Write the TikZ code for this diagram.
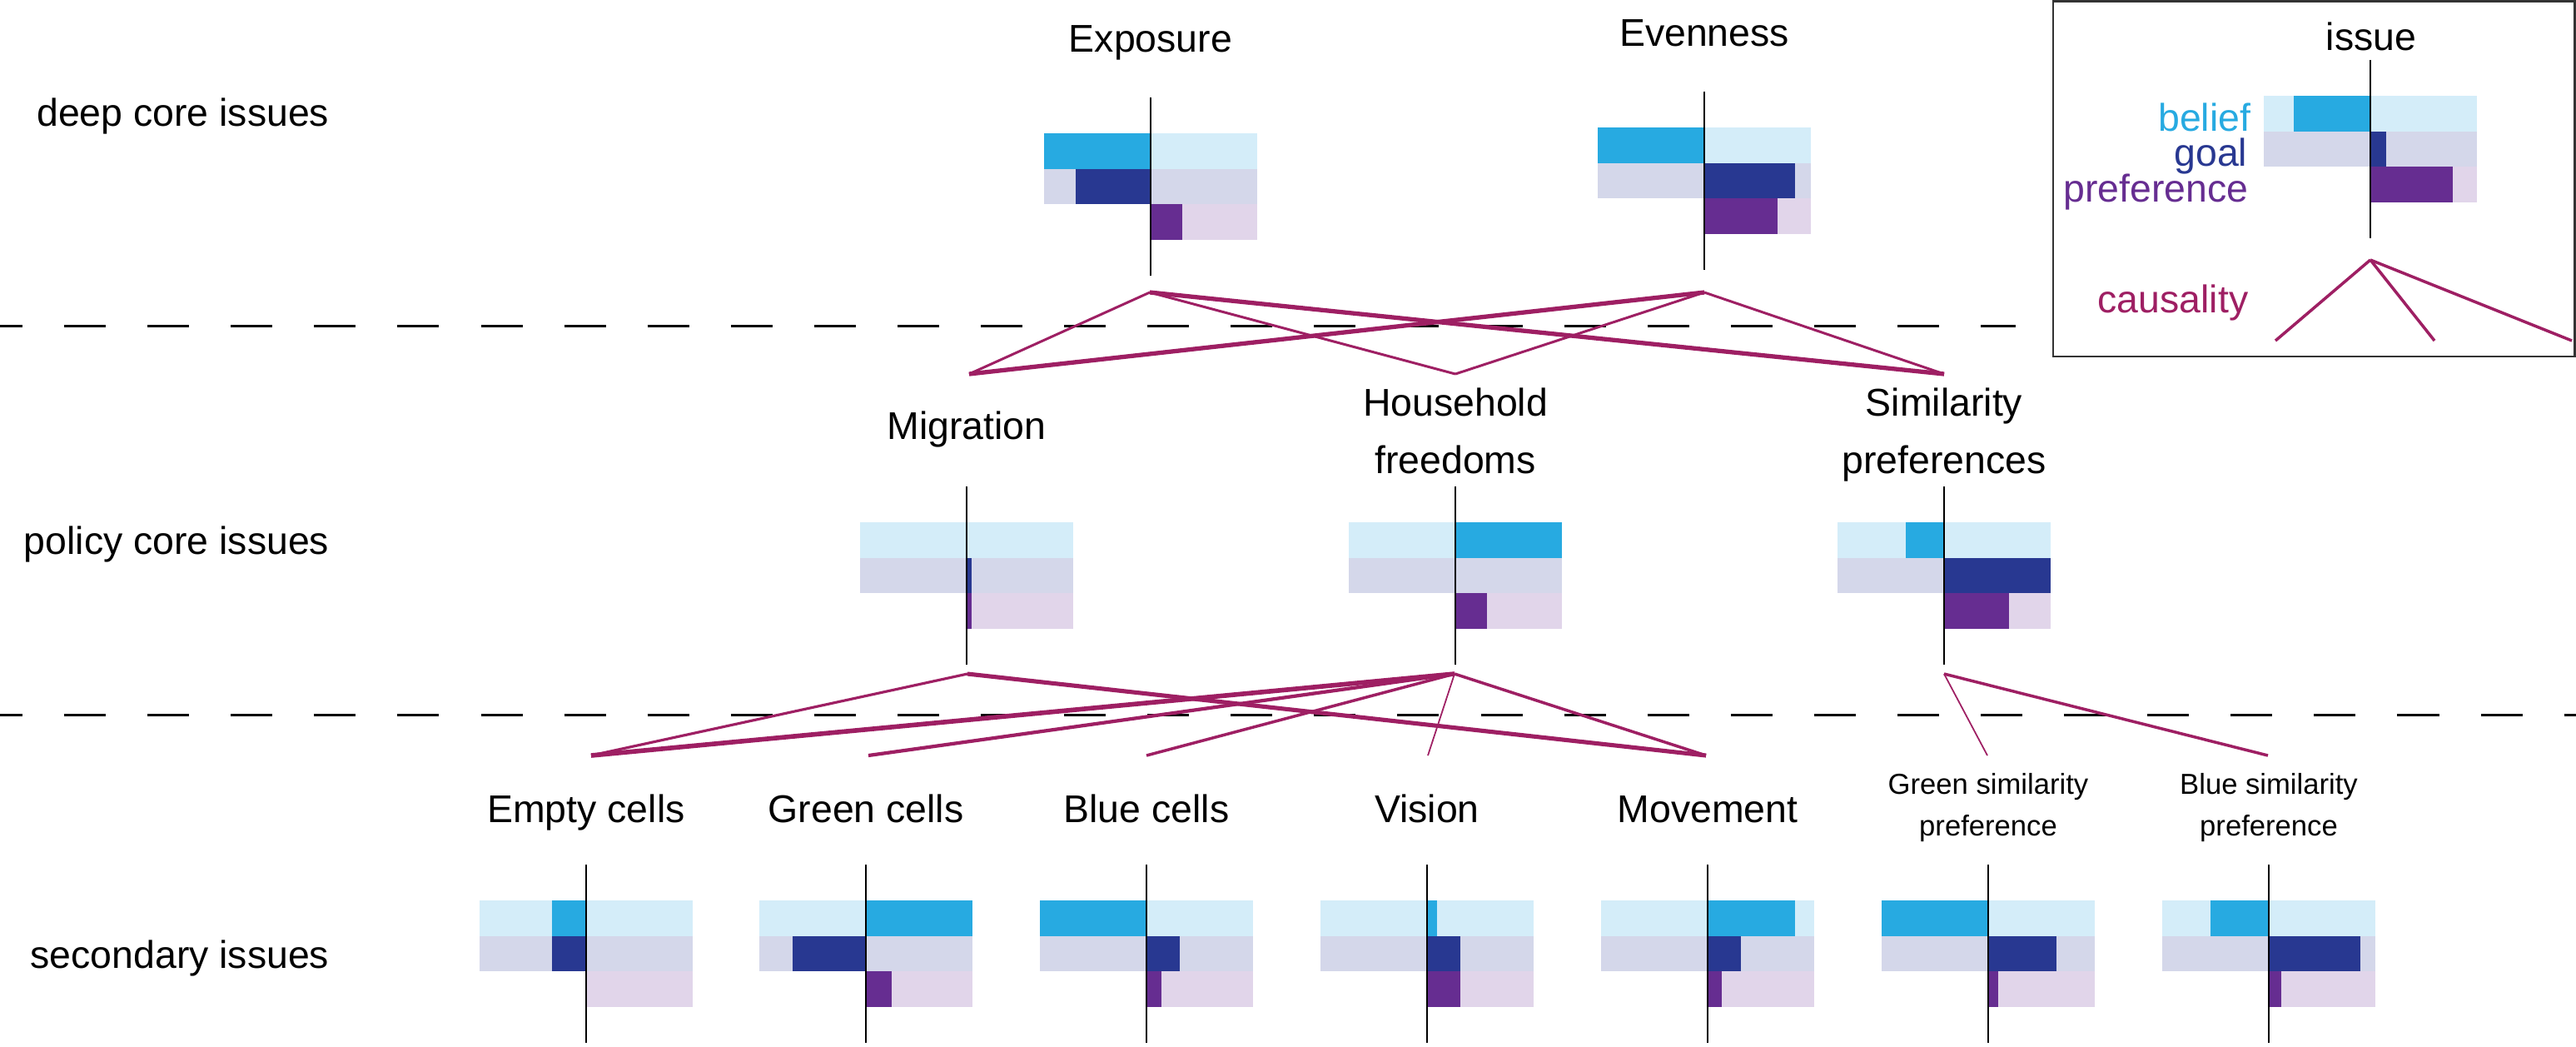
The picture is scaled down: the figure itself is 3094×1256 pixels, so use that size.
\documentclass[tikz,border=0pt]{standalone}
\usepackage{fontspec}
\setmainfont{Liberation Sans}
\usepackage{xcolor}
\definecolor{beliefdark}{HTML}{27AAE1}
\definecolor{belieflight}{HTML}{D4EDF9}
\definecolor{goaldark}{HTML}{283891}
\definecolor{goallight}{HTML}{D4D7EA}
\definecolor{prefdark}{HTML}{662D91}
\definecolor{preflight}{HTML}{E1D5EA}
\definecolor{causal}{HTML}{9E1F63}
\tikzset{
  issuename/.style={font=\fontsize{13.2pt}{19.35pt}\selectfont, inner sep=0pt, anchor=base, align=center},
  smallname/.style={issuename, font=\fontsize{9.85pt}{14.2pt}\selectfont},
  levelname/.style={font=\fontsize{13.2pt}{19.35pt}\selectfont, inner sep=0pt, anchor=base east},
  link/.style={draw=causal, line width=#1},
  axisline/.style={black, line width=0.55pt},
  levelsep/.style={line width=0.6pt, dash pattern=on 14.23pt off 14.23pt, dash phase=6.54pt}
}

\begin{document}
\begin{tikzpicture}[x=0.01cm, y=-0.01cm]
\useasboundingbox (0,0) rectangle (3094,1256);
%\draw [help lines, step=100] (0,0) grid (3094,1256);
% level separators
\draw [levelsep] (0,391.5) -- (2421,391.5);
\draw [levelsep] (0,858.5) -- (3094,858.5);
% level names
\node [levelname] (deep) at (396,151) {deep core issues};
\node [levelname] (policy) at (396,665) {policy core issues};
\node [levelname] (secondary) at (396,1162) {secondary issues};
% bar charts: name / axis x / centre y / belief / goal / preference
\foreach \n/\x/\y/\b/\g/\p in {
  exposure/1382/224/-1/-0.70/0.30,
  evenness/2047/217/-1/0.85/0.69,
  migration/1161/691/0/0.05/0.05,
  household/1748/691/1/0/0.30,
  similarity/2335/691/-0.36/1/0.61,
  empty/704/1145/-0.32/-0.32/0,
  green/1040/1145/1/-0.69/0.24,
  blue/1377/1145/-1/0.31/0.14,
  vision/1714/1145/0.09/0.31/0.31,
  movement/2051/1145/0.82/0.31/0.13,
  greensim/2388/1145/-1/0.64/0.09,
  bluesim/2725/1145/-0.55/0.86/0.12,
  legend/2847/179/-0.72/0.15/0.77}
{
  \coordinate (\n) at (\x,\y);
  \fill [belieflight] (\x-128,\y-64.05) rectangle (\x+128,\y-21.35);
  \fill [beliefdark] (\x,\y-64.05) rectangle (\x+\b*128,\y-21.35);
  \fill [goallight] (\x-128,\y-21.35) rectangle (\x+128,\y+21.35);
  \fill [goaldark] (\x,\y-21.35) rectangle (\x+\g*128,\y+21.35);
  \fill [preflight] (\x,\y+21.35) rectangle (\x+128,\y+64.05);
  \fill [prefdark] (\x,\y+21.35) rectangle (\x+\p*128,\y+64.05);
  \draw [axisline] (\x,\y-106.75) -- (\x,\y+106.75);
}
% issue names
\node [issuename] (exposure-label) at (1382,62) {Exposure};
\node [issuename] (evenness-label) at (2047,55) {Evenness};
\node [issuename] (migration-label) at (1161,527) {Migration};
\node [issuename] (household-label) at (1748,568) {Household\\freedoms};
\node [issuename] (similarity-label) at (2335,568) {Similarity\\preferences};
\node [issuename] (empty-label) at (704,987) {Empty cells};
\node [issuename] (green-label) at (1040,987) {Green cells};
\node [issuename] (blue-label) at (1377,987) {Blue cells};
\node [issuename] (vision-label) at (1714,987) {Vision};
\node [issuename] (movement-label) at (2051,987) {Movement};
\node [smallname] (greensim-label) at (2388,1003) {Green similarity\\preference};
\node [smallname] (bluesim-label) at (2725,1003) {Blue similarity\\preference};
% connector ends
\coordinate (exposure-out) at (1381,351);
\coordinate (evenness-out) at (2047,351);
\coordinate (migration-in) at (1164,449);
\coordinate (household-in) at (1748,449);
\coordinate (similarity-in) at (2335,449);
\coordinate (migration-out) at (1162,809);
\coordinate (household-out) at (1747,809);
\coordinate (similarity-out) at (2335,809);
\coordinate (empty-in) at (710,907);
\coordinate (green-in) at (1043,907);
\coordinate (blue-in) at (1377,907);
\coordinate (vision-in) at (1715,907);
\coordinate (movement-in) at (2049,907);
\coordinate (greensim-in) at (2387,907);
\coordinate (bluesim-in) at (2724,907);
% causality
\draw [link=0.85pt] (exposure-out) -- (migration-in);
\draw [link=0.85pt] (exposure-out) -- (household-in);
\draw [link=1.5pt] (exposure-out) -- (similarity-in);
\draw [link=1.5pt] (evenness-out) -- (migration-in);
\draw [link=0.85pt] (evenness-out) -- (household-in);
\draw [link=0.85pt] (evenness-out) -- (similarity-in);
\draw [link=0.9pt] (migration-out) -- (empty-in);
\draw [link=1.45pt] (migration-out) -- (movement-in);
\draw [link=1.6pt] (household-out) -- (empty-in);
\draw [link=1.2pt] (household-out) -- (green-in);
\draw [link=1pt] (household-out) -- (blue-in);
\draw [link=0.5pt] (household-out) -- (vision-in);
\draw [link=1pt] (household-out) -- (movement-in);
\draw [link=0.5pt] (similarity-out) -- (greensim-in);
\draw [link=1pt] (similarity-out) -- (bluesim-in);
% legend
\draw [line width=0.6pt, black!80] (2466,1.5) rectangle (3092.5,428);
\node [issuename] (legend-label) at (2848,60) {issue};
\node [levelname, text=beliefdark] (belief-key) at (2704,157) {belief};
\node [levelname, text=goaldark] (goal-key) at (2700,199) {goal};
\node [levelname, text=prefdark] (pref-key) at (2701,242) {preference};
\node [levelname, text=causal] (causal-key) at (2701,375) {causality};
\coordinate (legend-out) at (2847,312);
\coordinate (legend-a) at (2733,409);
\coordinate (legend-b) at (2924,409);
\coordinate (legend-c) at (3089,409);
\draw [link=1pt] (legend-out) -- (legend-a);
\draw [link=1pt] (legend-out) -- (legend-b);
\draw [link=1pt] (legend-out) -- (legend-c);
\end{tikzpicture}
\end{document}
